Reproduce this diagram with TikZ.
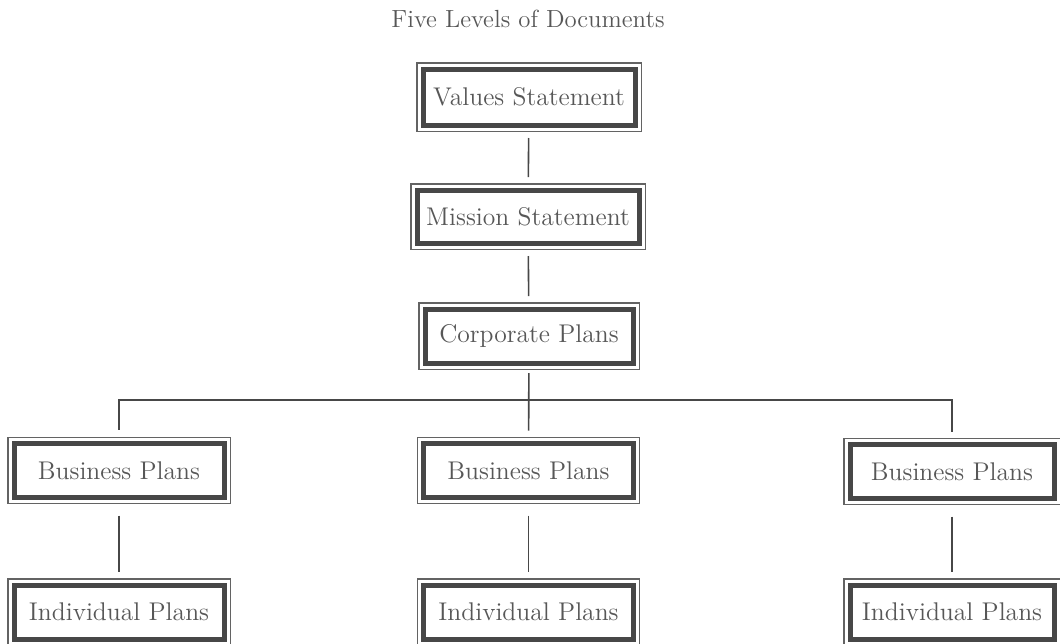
\documentclass[tikz,border=0pt]{standalone}
\usepackage{tikz}
\colorlet{framegray}{black!72}
\colorlet{textgray}{black!66}
\newcommand\lvfont{\fontsize{12.8}{15}\selectfont}

\begin{document}
\begin{tikzpicture}[x=.5pt,y=-.5pt,
    link/.style={draw=framegray,line width=.8pt,shorten <=6.5pt,shorten >=6.5pt}]%
        \useasboundingbox (0,0) rectangle (1060,643);%%
        \node[font=\fontsize{12.4}{15}\selectfont,text=textgray] (title) at (528,19) {Five Levels of Documents}; %%
        \begin{scope}[shape=rectangle]
        \tikzstyle{every node}=[draw=framegray,line width=2.5pt,fill=white,
            minimum width=105pt,minimum height=27pt,inner sep=0pt,outer sep=0pt,
            text=textgray,font=\lvfont,
            preaction={draw=framegray!85,line width=6.6pt},
            preaction={draw=white,line width=5.5pt}] %%
        \node[minimum width=106pt,minimum height=28pt] (vals) at (529,97) {Values Statement}; %%
        \node[minimum width=111pt,minimum height=26.5pt] (miss) at (528,216.5) {Mission Statement}; %%
        \node[minimum width=104pt] (corp) at (529,336) {Corporate Plans}; %%
        \node (bus1) at (119,470.5) {Business Plans}; %%
        \node (bus2) at (528.5,470.5) {Business Plans}; %%
        \node[minimum width=102pt] (bus3) at (952,471.5) {Business Plans}; %%
        \node (ind1) at (119,612) {Individual Plans}; %%
        \node (ind2) at (528.5,612) {Individual Plans}; %%
        \node[minimum width=102pt] (ind3) at (952,612) {Individual Plans}; %%
        \end{scope}
        \coordinate (bar) at (528.5,400); %%
\draw[link] (vals)--(miss); %%
\draw[link] (miss)--(corp); %%
\draw[link,shorten <=5pt] (corp)--(bus2); %%
\draw[link,shorten <=7pt] (bus1) |- (bar) -| (bus3); %%
\draw[link,shorten <=9pt] (bus1)--(ind1); %%
\draw[link,shorten <=9pt] (bus2)--(ind2); %%
\draw[link,shorten <=9pt] (bus3)--(ind3); %%
\end{tikzpicture}
\end{document}
